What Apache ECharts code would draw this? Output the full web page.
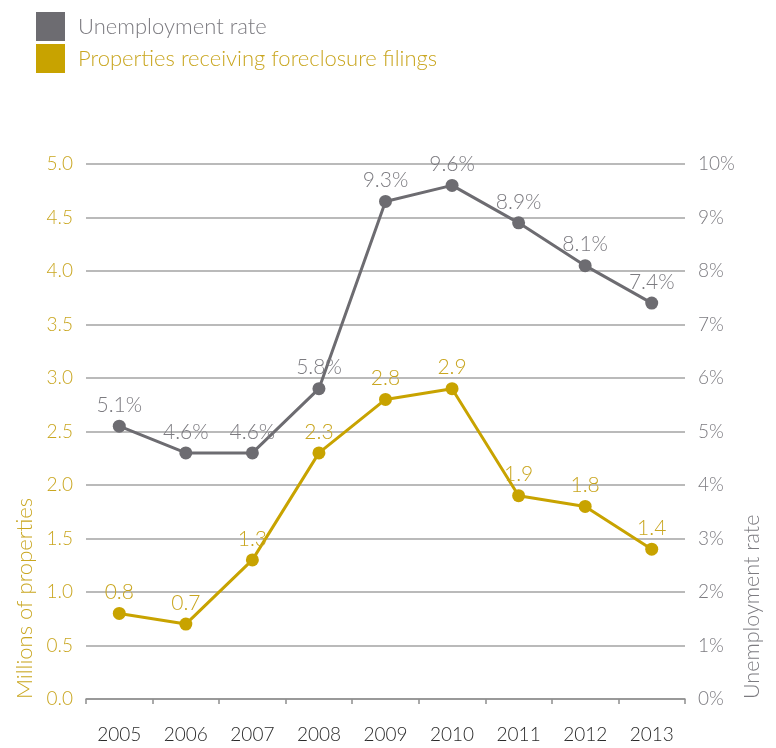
<!DOCTYPE html>
<html>
<head>
<meta charset="utf-8">
<script src="https://cdn.jsdelivr.net/npm/echarts@6/dist/echarts.min.js"></script>
<style>
  html, body { margin: 0; padding: 0; background: #fff; }
  #chart { width: 776px; height: 748px; }
</style>
</head>
<body>
<div id="chart"></div>
<script>
// Years on the category axis
const years = ['2005', '2006', '2007', '2008', '2009', '2010', '2011', '2012', '2013'];
// Unemployment rate, percent (right axis)
const unemploymentRate = [5.1, 4.6, 4.6, 5.8, 9.3, 9.6, 8.9, 8.1, 7.4];
// Properties receiving foreclosure filings, millions (left axis)
const foreclosures = [0.8, 0.7, 1.3, 2.3, 2.8, 2.9, 1.9, 1.8, 1.4];

const GOLD = '#c8a300';
const GOLD_TEXT = '#c9a620';
const GRAY = '#6d6c71';
const GRAY_TEXT = '#7c7b80';
const FONT = 'Lato';

const chart = echarts.init(document.getElementById('chart'), null, { renderer: 'canvas' });

chart.setOption({
  animation: false,
  textStyle: { fontFamily: FONT, fontWeight: 300 },
  legend: {
    orient: 'vertical',
    left: 36,
    top: 12,
    padding: 0,
    itemWidth: 29,
    itemHeight: 29,
    itemGap: 3,
    icon: 'rect',
    selectedMode: false,
    textStyle: { fontSize: 22, fontFamily: FONT, fontWeight: 300, padding: [0, 0, 0, 8] },
    data: [
      { name: 'Unemployment rate', itemStyle: { color: GRAY }, textStyle: { color: GRAY_TEXT } },
      { name: 'Properties receiving foreclosure filings', itemStyle: { color: GOLD }, textStyle: { color: GOLD_TEXT } }
    ]
  },
  grid: { left: 86, right: 91, top: 164, bottom: 49, containLabel: false },
  xAxis: {
    type: 'category',
    data: years,
    boundaryGap: true,
    axisLine: { lineStyle: { color: '#8e8e8e', width: 1.5 } },
    axisTick: { show: true, length: 5, inside: false, lineStyle: { color: '#8e8e8e', width: 1.5 } },
    axisLabel: { color: '#2b2b2b', fontSize: 19, fontFamily: FONT, fontWeight: 300, margin: 26 },
    splitLine: { show: false }
  },
  yAxis: [
    {
      type: 'value',
      position: 'left',
      min: 0,
      max: 5,
      interval: 0.5,
      axisLine: { show: false },
      axisTick: { show: false },
      axisLabel: {
        color: GOLD_TEXT, fontSize: 19, fontFamily: FONT, fontWeight: 300, margin: 13,
        formatter: v => v.toFixed(1)
      },
      splitLine: { lineStyle: { color: '#a3a3a3', width: 1.5 } }
    },
    {
      type: 'value',
      position: 'right',
      min: 0,
      max: 10,
      interval: 1,
      axisLine: { show: false },
      axisTick: { show: false },
      axisLabel: {
        color: GRAY_TEXT, fontSize: 19, fontFamily: FONT, fontWeight: 300, margin: 13,
        formatter: v => v + '%'
      },
      splitLine: { show: false }
    }
  ],
  graphic: [
    {
      type: 'text',
      x: 25,
      y: 699,
      rotation: Math.PI / 2,
      style: {
        text: 'Millions of properties',
        fill: GOLD_TEXT,
        font: '300 22px ' + FONT,
        textAlign: 'left',
        textVerticalAlign: 'middle'
      }
    },
    {
      type: 'text',
      x: 752,
      y: 699,
      rotation: Math.PI / 2,
      style: {
        text: 'Unemployment rate',
        fill: GRAY_TEXT,
        font: '300 21.5px ' + FONT,
        textAlign: 'left',
        textVerticalAlign: 'middle'
      }
    }
  ],
  series: [
    {
      name: 'Unemployment rate',
      type: 'line',
      yAxisIndex: 1,
      data: unemploymentRate,
      symbol: 'circle',
      symbolSize: 13,
      lineStyle: { color: GRAY, width: 3 },
      itemStyle: { color: GRAY },
      label: {
        show: true,
        position: 'top',
        distance: 4,
        color: GRAY_TEXT,
        fontSize: 21,
        fontFamily: FONT,
        fontWeight: 300,
        formatter: p => p.value.toFixed(1) + '%'
      }
    },
    {
      name: 'Properties receiving foreclosure filings',
      type: 'line',
      yAxisIndex: 0,
      data: foreclosures,
      symbol: 'circle',
      symbolSize: 13,
      lineStyle: { color: GOLD, width: 3 },
      itemStyle: { color: GOLD },
      label: {
        show: true,
        position: 'top',
        distance: 4,
        color: GOLD_TEXT,
        fontSize: 21,
        fontFamily: FONT,
        fontWeight: 300,
        formatter: p => p.value.toFixed(1)
      }
    }
  ]
});
</script>
</body>
</html>
